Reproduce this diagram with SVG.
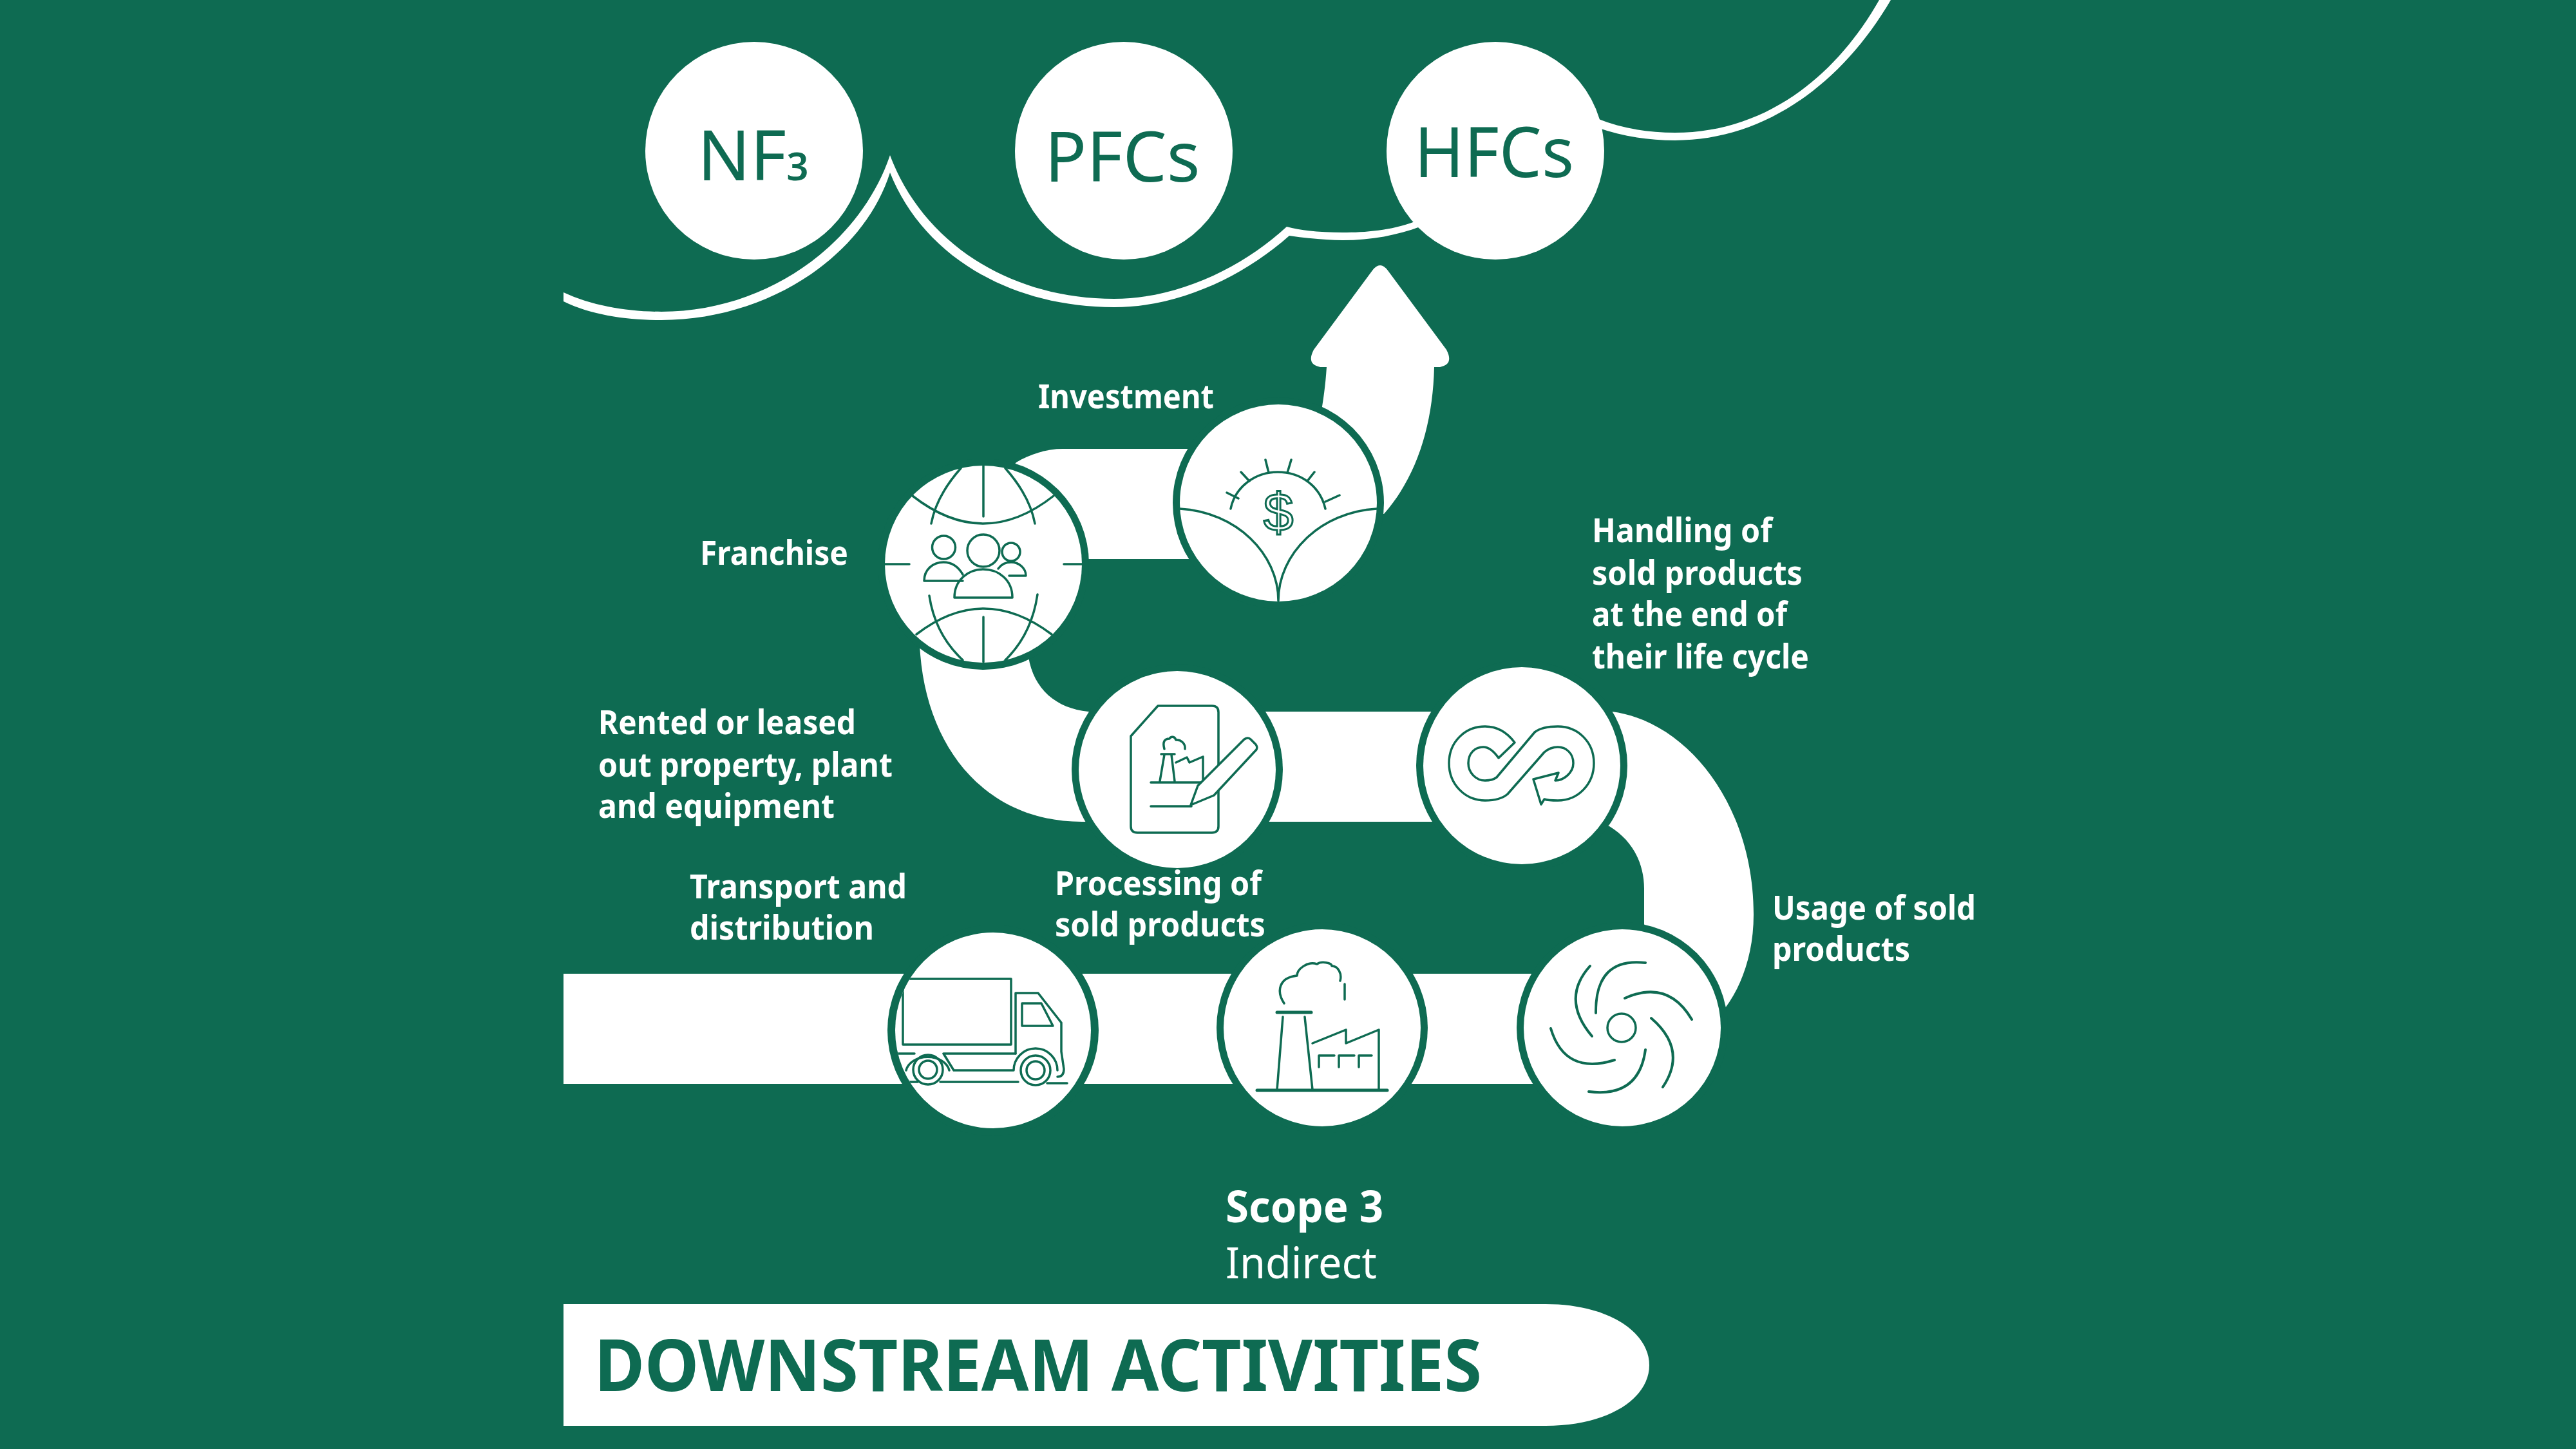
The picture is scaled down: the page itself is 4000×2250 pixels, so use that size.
<svg xmlns="http://www.w3.org/2000/svg" width="4000" height="2250" viewBox="0 0 4000 2250">
<style>
.ring{fill:#0e6b52}
.disc{fill:#fff}
.ic{fill:none;stroke:#0e6b52;stroke-width:3.5;stroke-linecap:round;stroke-linejoin:round}
.icw{fill:#fff;stroke:#0e6b52;stroke-width:3.5;stroke-linejoin:round;stroke-linecap:round}
.band{fill:#fff}
text{font-family:"Noto Sans","Open Sans","Liberation Sans",sans-serif}
.lb{font-size:52px;font-weight:700;fill:#fff}
.gas{font-size:108px;fill:#0e6b52}
</style>
<defs>
<clipPath id="clipTruck"><circle cx="1542" cy="1600" r="152"/></clipPath>
</defs>
<rect width="4000" height="2250" fill="#0e6b52"/>

<g id="cloud" fill="#fff">
<path d="M875,468 C920,490 975,497 1027,497 C1190,497 1340,400 1382,268 C1430,390 1560,477 1730,477 C1830,477 1930,430 2002,366 C2030,370 2060,373 2085,373 C2130,373 2170,365 2205,352 L2197,344 C2160,358 2120,361 2085,361 C2050,361 2020,358 1998,352 C1930,415 1830,464 1730,464 C1560,464 1430,370 1382,241 C1335,380 1190,484 1027,484 C975,484 920,475 875,454 Z"/>
<path d="M2480,198 C2520,212 2560,218 2601,218 C2740,218 2860,130 2936,0 L2918,0 C2850,120 2740,206 2601,206 C2560,206 2520,200 2480,184 Z"/>
</g>

<g id="connectors">
<rect class="band" x="875" y="1512" width="1640" height="171"/>
<path class="band" d="M2400,1105 H2503 C2620,1120 2723,1250 2723,1420 C2723,1480 2705,1530 2679,1565 L2600,1600 L2553,1435 V1380 C2553,1340 2535,1305 2499,1283 L2400,1276 Z"/>
<rect class="band" x="1800" y="1105" width="650" height="171"/>
<path class="band" d="M1428,1000 C1435,1160 1530,1276 1680,1276 H1830 V1105 H1690 C1640,1100 1605,1070 1597,1020 Z"/>
<path class="band" d="M1560,740 L1578,718 C1600,705 1625,697 1650,697 H1900 V868 H1600 Z"/>
<path class="band" d="M2131,420 Q2143,404 2155,420 L2246,543 Q2258,566 2236,570 H2227 C2225,660 2200,740 2149,798 L2050,780 L2050,650 C2055,620 2058,600 2060,570 H2050 Q2028,566 2040,543 Z"/>
</g>

<g id="node-nf3"><circle class="disc" cx="1171" cy="234" r="169"/><text class="gas" x="1083" y="280">NF<tspan font-size="60" font-weight="600">3</tspan></text></g>
<g id="node-pfcs"><circle class="disc" cx="1745" cy="234" r="169"/><text class="gas" x="1622" y="282">PFCs</text></g>
<g id="node-hfcs"><circle class="disc" cx="2322" cy="234" r="169"/><text class="gas" x="2196" y="275" textLength="248" lengthAdjust="spacingAndGlyphs">HFCs</text></g>

<g id="node-investment">
<circle class="ring" cx="1985" cy="781" r="164"/><circle class="disc" cx="1985" cy="781" r="153"/>
<path class="ic" d="M1832,790 C1920,795 1985,860 1985,933 C1985,860 2050,795 2138,790"/>
<path class="ic" d="M1911,790 C1918,755 1950,733 1984,733 C2020,733 2050,755 2058,790"/>
<path class="ic" d="M1905,765 L1923,774 M1927,733 L1940,747 M1965,714 L1970,734 M2005,714 L1999,734 M2041,733 L2030,747 M2080,769 L2058,779"/>
<text x="1985" y="824" text-anchor="middle" font-size="84" style="font-family:'Liberation Sans',sans-serif" fill="#fff" stroke="#0e6b52" stroke-width="3">$</text>
<text class="lb" x="1612" y="634" textLength="273" lengthAdjust="spacingAndGlyphs">Investment</text>
</g>

<g id="node-franchise">
<circle class="ring" cx="1527" cy="876" r="164"/><circle class="disc" cx="1527" cy="876" r="153"/>
<path class="ic" d="M1527,723 V802 M1417,770 Q1527,856 1636,770 M1492,727 Q1454,770 1446,813 M1561,727 Q1599,770 1607,813 M1374,876 H1412 M1652,876 H1680 M1423,985 Q1527,905 1633,985 M1527,958 V1028 M1443,925 Q1452,985 1495,1025 M1611,923 Q1602,985 1561,1025"/>
<circle class="ic" cx="1465.500" cy="850" r="18"/>
<circle class="ic" cx="1570" cy="857" r="14"/>
<path class="ic" d="M1495,902 H1435 C1435,885 1448,873 1465,873 C1478,873 1488,880 1495,892"/>
<path class="ic" d="M1550,883 C1555,876 1562,873 1570,873 C1582,873 1593,882 1593,894 H1567"/>
<ellipse class="ic" cx="1527" cy="855" rx="25" ry="25"/>
<path class="ic" d="M1482,928 H1572 C1572,900 1550,884 1527,884 C1504,884 1482,900 1482,928 Z"/>
<text class="lb" x="1087" y="877" textLength="230" lengthAdjust="spacingAndGlyphs">Franchise</text>
</g>

<g id="node-rented">
<circle class="ring" cx="1828" cy="1195" r="164"/><circle class="disc" cx="1828" cy="1195" r="153"/>
<path class="ic" d="M1798,1096 H1882 Q1892,1096 1892,1106 V1283 Q1892,1293 1882,1293 H1766 Q1756,1293 1756,1283 V1143 Z"/>
<path class="ic" d="M1787,1215 H1864 M1787,1252 H1850 M1801,1213 L1808,1172 M1824,1213 L1819,1172 M1803,1171 H1824"/>
<path class="ic" d="M1808,1163 C1805,1152 1808,1147 1816,1147 C1818,1143 1824,1143 1826,1149 C1834,1148 1841,1155 1840,1163 M1826,1184 L1843,1176 L1847,1184 L1868,1175 V1213"/>
<path class="icw" d="M1849,1250 L1860,1220 L1932,1148 Q1938,1144 1942,1148 L1950,1156 Q1953,1160 1951,1164 L1885,1235 Z"/>
<text class="lb" x="929" y="1140" textLength="400" lengthAdjust="spacingAndGlyphs">Rented or leased</text>
<text class="lb" x="929" y="1206" textLength="457" lengthAdjust="spacingAndGlyphs">out property, plant</text>
<text class="lb" x="929" y="1270" textLength="367" lengthAdjust="spacingAndGlyphs">and equipment</text>
</g>

<g id="node-handling">
<circle class="ring" cx="2363" cy="1189" r="164"/><circle class="disc" cx="2363" cy="1189" r="153"/>
<path class="ic" d="M2327,1177 C2320,1167 2312,1160 2303,1160 C2290,1160 2280,1170 2280,1185 C2280,1200 2292,1212 2306,1212 C2314,1212 2320,1210 2324,1207 L2383,1137 C2392,1130 2405,1128 2419,1128 C2450,1128 2475,1152 2475,1185 C2475,1218 2450,1243 2419,1243 C2412,1243 2404,1243 2398,1241 L2393,1249 L2381,1210 L2420,1200 L2415,1212 C2428,1212 2443,1200 2443,1185 C2443,1170 2432,1160 2419,1160 C2412,1160 2405,1162 2398,1168 L2341,1233 C2333,1240 2322,1243 2306,1243 C2275,1243 2250,1218 2250,1185 C2250,1152 2275,1128 2306,1128 C2325,1128 2340,1137 2352,1153 Z"/>
<text class="lb" x="2472" y="842" textLength="280" lengthAdjust="spacingAndGlyphs">Handling of</text>
<text class="lb" x="2472" y="908" textLength="327" lengthAdjust="spacingAndGlyphs">sold products</text>
<text class="lb" x="2472" y="972" textLength="303" lengthAdjust="spacingAndGlyphs">at the end of</text>
<text class="lb" x="2472" y="1038" textLength="337" lengthAdjust="spacingAndGlyphs">their life cycle</text>
</g>

<g id="node-transport">
<circle class="ring" cx="1542" cy="1600" r="164"/><circle class="disc" cx="1542" cy="1600" r="152"/>
<g clip-path="url(#clipTruck)">
<path class="ic" d="M1402,1520 H1570 V1622 H1402 Z"/>
<path class="ic" d="M1577,1636 V1542 H1612 L1648,1588 V1633 L1652,1660 Q1652,1672 1642,1672"/>
<path class="ic" d="M1587,1558 H1617 L1635,1593 H1587 Z"/>
<path class="ic" d="M1395,1636 H1420 M1465,1636 H1577 M1465,1636 L1481,1662 H1574 M1574,1662 A34,34 0 0 1 1642,1662 M1407,1662 A34,25 0 0 1 1474,1662 M1460,1680 H1581 M1626,1682 H1657 M1395,1680 H1425"/>
<circle class="ic" cx="1608" cy="1662" r="23"/><circle class="ic" cx="1608" cy="1662" r="14"/>
<circle class="ic" cx="1441" cy="1661" r="23"/><circle class="ic" cx="1441" cy="1661" r="14"/>
</g>
<text class="lb" x="1071" y="1395" textLength="337" lengthAdjust="spacingAndGlyphs">Transport and</text>
<text class="lb" x="1071" y="1459" textLength="286" lengthAdjust="spacingAndGlyphs">distribution</text>
</g>

<g id="node-processing">
<circle class="ring" cx="2053" cy="1596" r="164"/><circle class="disc" cx="2053" cy="1596" r="153"/>
<path class="ic" d="M1952,1693 H2154" style="stroke-width:5"/>
<path class="ic" d="M1983,1692 L1992,1579 M2038,1692 L2026,1579"/>
<path class="ic" d="M1983,1572 H2036" style="stroke-width:5"/>
<path class="ic" d="M1994,1558 C1982,1540 1985,1518 2014,1515 C2014,1505 2030,1492 2045,1497 C2052,1492 2068,1495 2068,1500 C2078,1500 2084,1512 2081,1523 M2088,1528 V1552"/>
<path class="ic" d="M2038,1620 L2090,1599 V1620 L2141,1599 V1693"/>
<path class="ic" d="M2048,1657 V1639 H2072 M2079,1657 V1639 H2103 M2110,1657 V1639 H2130"/>
<text class="lb" x="1638" y="1390" textLength="321" lengthAdjust="spacingAndGlyphs">Processing of</text>
<text class="lb" x="1638" y="1454" textLength="327" lengthAdjust="spacingAndGlyphs">sold products</text>
</g>

<g id="node-usage">
<circle class="ring" cx="2519" cy="1596" r="164"/><circle class="disc" cx="2519" cy="1596" r="153"/>
<circle class="ic" cx="2518" cy="1596" r="22"/>
<path class="ic" style="stroke-width:4" d="M2469,1500 Q2423,1551 2472,1609 M2555,1495 Q2477,1486 2478,1573 M2523,1550 Q2590,1520 2627,1583 M2564,1581 Q2621,1630 2582,1688 M2555,1630 Q2545,1705 2467,1695 M2408,1597 Q2430,1670 2507,1646"/>
<text class="lb" x="2752" y="1428" textLength="316" lengthAdjust="spacingAndGlyphs">Usage of sold</text>
<text class="lb" x="2752" y="1492" textLength="214" lengthAdjust="spacingAndGlyphs">products</text>
</g>

<g id="scope">
<text x="1903" y="1898" font-size="68" font-weight="700" fill="#fff" textLength="245" lengthAdjust="spacingAndGlyphs">Scope 3</text>
<text x="1903" y="1985" font-size="68" fill="#fff" textLength="235" lengthAdjust="spacingAndGlyphs">Indirect</text>
</g>

<g id="banner">
<path fill="#fff" d="M875,2025 H2400 C2500,2025 2561,2070 2561,2120 C2561,2170 2500,2214 2400,2214 H875 Z"/>
<text x="923" y="2160" font-size="112" font-weight="700" fill="#0e6b52" textLength="1378" lengthAdjust="spacingAndGlyphs">DOWNSTREAM ACTIVITIES</text>
</g>
</svg>
